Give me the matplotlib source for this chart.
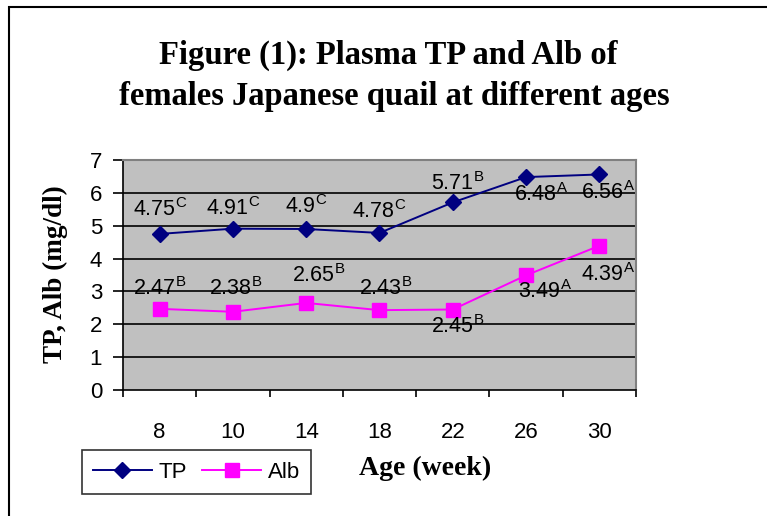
import matplotlib.pyplot as plt
from matplotlib.patches import Rectangle

# Data
ages = ["8", "10", "14", "18", "22", "26", "30"]
tp = [4.75, 4.91, 4.90, 4.78, 5.71, 6.48, 6.56]
alb = [2.47, 2.38, 2.65, 2.43, 2.45, 3.49, 4.39]
tp_letters = ["C", "C", "C", "C", "B", "A", "A"]
alb_letters = ["B", "B", "B", "B", "B", "A", "A"]

# label offsets in pixels (dx, dy) relative to each point
tp_offsets = [(0, 24), (0, 20), (0, 22), (0, 21), (5, 19), (15, -17), (9, -18)]
alb_offsets = [(0, 20), (3, 23), (12, 27), (6, 22), (5, -17), (19, -16), (9, -29)]

plt.rcParams['font.family'] = 'Liberation Sans'
plt.rcParams['mathtext.fontset'] = 'custom'
plt.rcParams['mathtext.rm'] = 'Liberation Sans'

fig = plt.figure(figsize=(7.67, 5.16), dpi=100)

# outer chart border (only top and left visible in the crop)
fig.patches.append(Rectangle((9 / 767, -0.1), 1.0, (516 - 7) / 516 + 0.1,
                             transform=fig.transFigure, fill=False,
                             edgecolor='black', linewidth=1.5))

ax = fig.add_axes([123 / 767, (516 - 390) / 516, (636 - 123) / 767, (390 - 160) / 516])
ax.set_facecolor('#c0c0c0')

x = list(range(len(ages)))
ax.plot(x, tp, color='#000080', marker='D', markersize=8, linewidth=1.4, label='TP')
ax.plot(x, alb, color='#ff00ff', marker='s', markersize=9.5, linewidth=1.4, label='Alb')

for i in x:
    dx, dy = tp_offsets[i]
    ax.annotate(f"{tp[i]:g}$^{{\\mathrm{{{tp_letters[i]}}}}}$", (i, tp[i]),
                xytext=(dx, dy), textcoords='offset pixels',
                ha='center', va='center', fontsize=15.5)
    dx, dy = alb_offsets[i]
    ax.annotate(f"{alb[i]:g}$^{{\\mathrm{{{alb_letters[i]}}}}}$", (i, alb[i]),
                xytext=(dx, dy), textcoords='offset pixels',
                ha='center', va='center', fontsize=15.5)

ax.set_xlim(-0.5, 6.5)
ax.set_ylim(0, 7)
ax.set_yticks(range(8))
for yv in range(1, 7):
    ax.axhline(yv, color='black', linewidth=1.2, zorder=0.5)

ax.set_xticks([i - 0.5 for i in range(8)])
ax.set_xticklabels([])
ax.set_xticks(x, minor=True)
ax.set_xticklabels(ages, minor=True, fontsize=16)
ax.tick_params(axis='x', which='major', direction='out', length=5, width=1.2)
ax.tick_params(axis='x', which='minor', length=0, pad=23)
ax.tick_params(axis='y', direction='out', length=7, width=1.2, labelsize=16, pad=8)

for side in ['top', 'right']:
    ax.spines[side].set_color('#808080')
    ax.spines[side].set_linewidth(1.5)
for side in ['left', 'bottom']:
    ax.spines[side].set_color('black')
    ax.spines[side].set_linewidth(1.2)

fig.text(388 / 767, 1 - 55 / 516, "Figure (1): Plasma TP and Alb of",
         ha='center', va='center', fontsize=23.5, fontweight='bold', family='Liberation Serif')
fig.text(394 / 767, 1 - 96 / 516, "females Japanese quail at different ages",
         ha='center', va='center', fontsize=23.5, fontweight='bold', family='Liberation Serif')
fig.text(55 / 767, 1 - 274 / 516, "TP, Alb (mg/dl)", rotation=90,
         ha='center', va='center', fontsize=19.5, fontweight='bold', family='Liberation Serif')
fig.text(425 / 767, 1 - 468 / 516, "Age (week)",
         ha='center', va='center', fontsize=20, fontweight='bold', family='Liberation Serif')

leg = fig.legend(loc='center', bbox_to_anchor=(196.5 / 767, 1 - 472 / 516), ncol=2,
                 fontsize=16, frameon=True, fancybox=False, edgecolor='black',
                 handlelength=2.65, handletextpad=0.3, columnspacing=0.7,
                 borderpad=0.5, borderaxespad=0)
leg.get_frame().set_linewidth(1.2)

fig.savefig('out.png', dpi=100)
